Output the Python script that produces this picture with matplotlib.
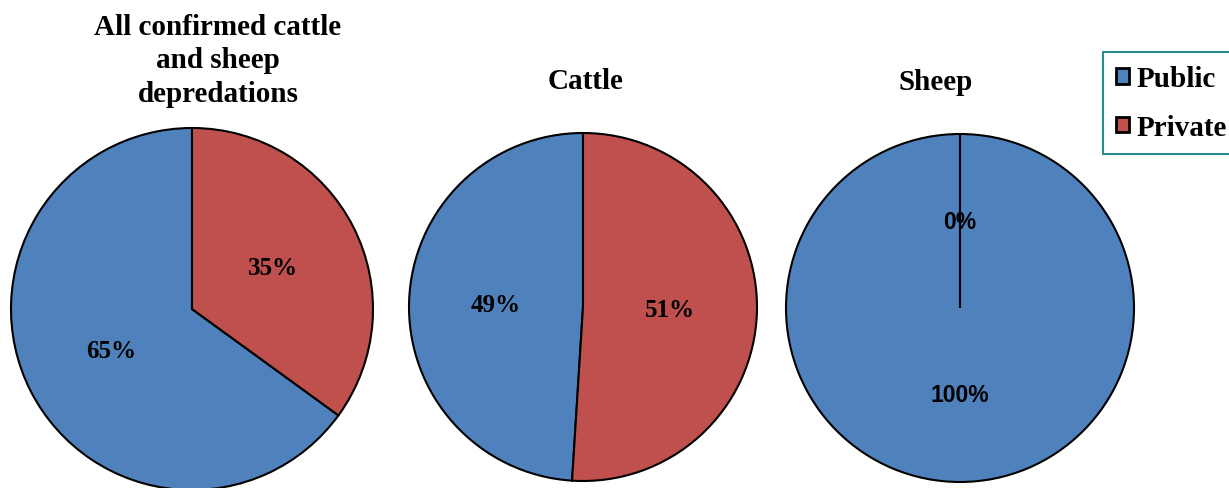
import matplotlib
matplotlib.use("Agg")
import matplotlib.pyplot as plt

# shares of confirmed depredations by land ownership
categories = ["Public", "Private"]
all_share = [65, 35]
cattle_share = [49, 51]
sheep_share = [100, 0]

colors = ["#4F81BD", "#C0504D"]
serif = "Liberation Serif"
sans = "Liberation Sans"

fig = plt.figure(figsize=(12.29, 4.89), dpi=100)
ax = fig.add_axes([0, 0, 1, 1])

wedge_kw = dict(edgecolor="black", linewidth=1.5)

# pies laid out in pixel units (y measured up from the bottom)
w1, _, _ = ax.pie(all_share, colors=colors, startangle=90, counterclock=True,
                  center=(192, 179), radius=181, autopct="%1.0f%%", pctdistance=0.5,
                  wedgeprops=wedge_kw,
                  textprops=dict(family=serif, fontweight="bold", fontsize=18))
ax.pie(cattle_share, colors=colors, startangle=90, counterclock=True,
       center=(583, 181), radius=174, autopct="%1.0f%%", pctdistance=0.5,
       wedgeprops=wedge_kw,
       textprops=dict(family=serif, fontweight="bold", fontsize=18))
ax.pie(sheep_share, colors=colors, startangle=90, counterclock=True,
       center=(960, 180), radius=174, autopct="%1.0f%%", pctdistance=0.5,
       wedgeprops=wedge_kw,
       textprops=dict(family=sans, fontweight="bold", fontsize=16.5))

ax.set_xlim(0, 1229)
ax.set_ylim(0, 489)
ax.set_aspect("equal")
ax.axis("off")

title_kw = dict(family=serif, fontweight="bold", fontsize=21, ha="center", va="center")
ax.text(218, 428, "All confirmed cattle\nand sheep\ndepredations", linespacing=1.33, **title_kw)
ax.text(586, 407, "Cattle", **title_kw)
ax.text(936, 406, "Sheep", **title_kw)

leg = fig.legend(w1, categories, loc="upper left",
                 bbox_to_anchor=(1103 / 1229, 1 - 53 / 489), borderaxespad=0,
                 prop=dict(family=serif, weight="bold", size=21),
                 handlelength=0.45, handleheight=0.45, handletextpad=0.25,
                 labelspacing=0.75, borderpad=0.45, fancybox=False, framealpha=1)
leg.get_frame().set_edgecolor("#2A8C8C")
leg.get_frame().set_linewidth(1.5)
for h in leg.legend_handles:
    h.set_linewidth(2)

fig.savefig("out.png", dpi=100)
